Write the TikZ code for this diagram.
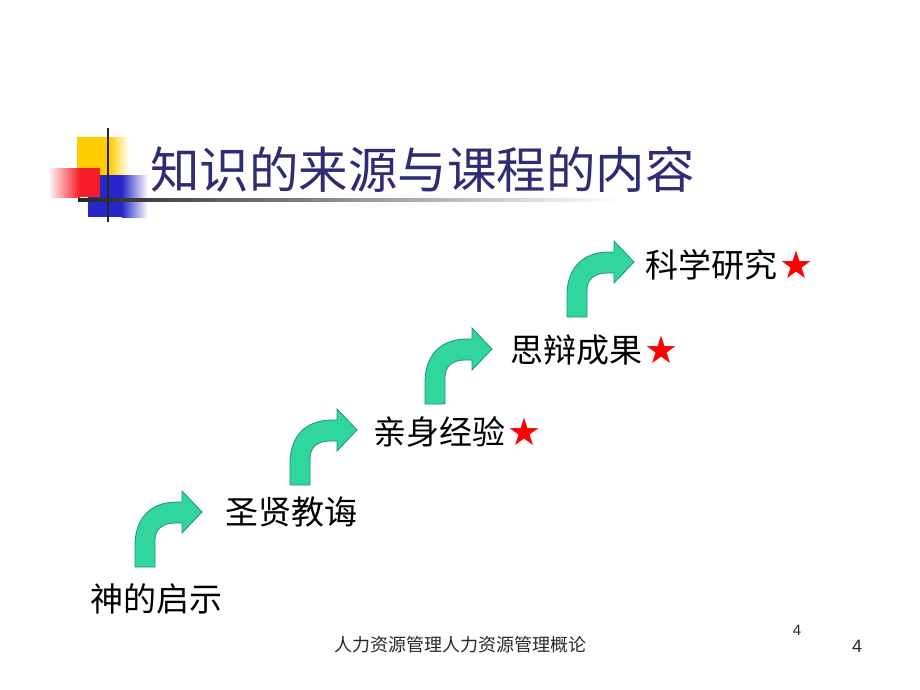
\documentclass[tikz,border=0pt]{standalone}
\usepackage{fontspec}
\newfontfamily\cjk{Noto Sans CJK SC}
\newfontfamily\dejavu{DejaVu Sans}
\newfontfamily\lsans{Liberation Sans}
\definecolor{titleblue}{RGB}{45,45,115}
\definecolor{arrowfill}{RGB}{48,214,158}
\definecolor{arrowedge}{RGB}{30,150,105}
\definecolor{sqyellow}{RGB}{255,204,0}
\definecolor{sqred}{RGB}{245,30,40}
\definecolor{sqblue}{RGB}{40,40,200}
\definecolor{footgray}{RGB}{40,40,40}
\tikzset{
  steplabel/.style={font=\cjk\fontsize{33}{33}\selectfont, text=black, inner sep=0pt, anchor=west},
  startext/.style={font=\dejavu\fontsize{38}{38}\selectfont, text=red, inner sep=0pt, anchor=west},
  turnarrow/.style={fill=arrowfill, draw=arrowedge, line width=0.8pt, line join=miter},
}
\newcommand{\turnarrowpath}[2]{%
  \begin{scope}[shift={(#1,#2)}, yscale=-1]
    \path[turnarrow] (0,0) -- (20,0) -- (20,27) .. controls (20,38) and (28,44) .. (40,44) -- (47,44) -- (47,34) -- (67,55) -- (47,76) -- (47,65) -- (42,65) .. controls (15,65) and (0,48) .. (0,22) -- cycle;
  \end{scope}}
\begin{document}
\begin{tikzpicture}[x=1pt,y=-1pt]
\useasboundingbox (0,0) rectangle (920,690);
\fill[white] (0,0) rectangle (920,690);
% decoration squares
\fill[sqyellow] (77,137) rectangle (110,175);
\shade[left color=sqyellow, right color=white] (109.5,137) rectangle (129,175);
\fill[sqblue] (88,175) rectangle (122,217);
\shade[left color=sqblue, right color=white] (121.5,175) rectangle (148,217);
\shade[left color=sqred!8, right color=sqred] (50,168) rectangle (80,197);
\fill[sqred] (79.5,168) rectangle (100,197);
\draw[line width=2pt, black!85] (108,128) -- (108,222);
\shade[left color=black!85, right color=white] (78,198) rectangle (620,201);
% title
\node[font=\cjk\fontsize{49.5}{49.5}\selectfont, text=titleblue, inner sep=0pt, anchor=west] (title) at (150,170) {知识的来源与课程的内容};
% arrows
\turnarrowpath{135}{567}
\turnarrowpath{290}{485}
\turnarrowpath{425}{404}
\turnarrowpath{567}{317}
% labels
\node[steplabel] (s1) at (90,599) {神的启示};
\node[steplabel] (s2) at (225,512) {圣贤教诲};
\node[steplabel] (s3) at (373,432) {亲身经验};
\node[startext] (st3) at ([xshift=2pt]s3.east) {★};
\node[steplabel] (s4) at (510,350) {思辩成果};
\node[startext] (st4) at ([xshift=2pt]s4.east) {★};
\node[steplabel] (s5) at (645,265) {科学研究};
\node[startext] (st5) at ([xshift=2pt]s5.east) {★};
% footer
\node[font=\cjk\fontsize{18}{18}\selectfont, text=footgray, inner sep=0pt] (foot) at (460,645) {人力资源管理人力资源管理概论};
\node[font=\lsans\fontsize{15}{15}\selectfont, text=footgray, inner sep=0pt] (pn1) at (797,630) {4};
\node[font=\lsans\fontsize{18}{18}\selectfont, text=footgray, inner sep=0pt] (pn2) at (857,646) {4};
\end{tikzpicture}
\end{document}
